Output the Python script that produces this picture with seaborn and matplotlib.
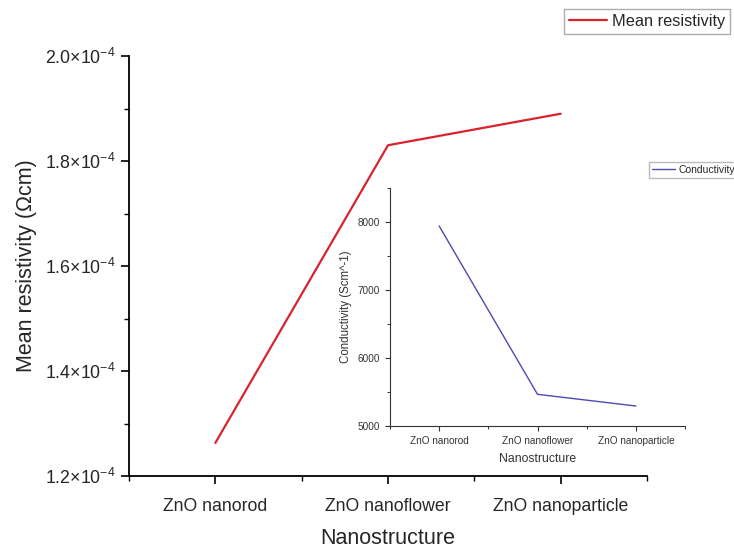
import matplotlib
matplotlib.use("Agg")
import matplotlib.pyplot as plt
import seaborn as sns
import pandas as pd
from matplotlib.ticker import FixedLocator, FuncFormatter

categories = ["ZnO nanorod", "ZnO nanoflower", "ZnO nanoparticle"]
resistivity = [1.263e-4, 1.830e-4, 1.890e-4]
conductivity = [7941, 5466, 5294]
res_ticks = [1.2e-4, 1.4e-4, 1.6e-4, 1.8e-4, 2.0e-4]

sns.set_theme(style="ticks")
plt.rcParams["font.family"] = ["Liberation Sans", "DejaVu Sans"]
plt.rcParams["mathtext.fontset"] = "custom"
plt.rcParams["mathtext.rm"] = "Liberation Sans"
plt.rcParams["mathtext.it"] = "Liberation Sans:italic"
plt.rcParams["mathtext.bf"] = "Liberation Sans:bold"
plt.rcParams["mathtext.sf"] = "Liberation Sans"

df_main = pd.DataFrame({"Nanostructure": categories, "Mean resistivity": resistivity})
df_in = pd.DataFrame({"Nanostructure": categories, "Conductivity": conductivity})

fig = plt.figure(figsize=(7.34, 5.49), dpi=100)
ax = fig.add_axes([129/734, 1-476/549, (647-129)/734, (476-56)/549])

sns.lineplot(data=df_main, x="Nanostructure", y="Mean resistivity", ax=ax,
             color="#d9232e", linewidth=1.6, label="Mean resistivity", sort=False)
ax.set_xlim(-0.5, 2.5)
ax.set_ylim(1.2e-4, 2.0e-4)
ax.set_xticks(range(len(categories)))
ax.set_xticklabels(categories, fontsize=12.7)
ax.xaxis.set_minor_locator(FixedLocator([-0.5, 0.5, 1.5, 2.5]))
ax.yaxis.set_major_locator(FixedLocator(res_ticks))
ax.yaxis.set_minor_locator(FixedLocator([1.3e-4, 1.5e-4, 1.7e-4, 1.9e-4]))

def fmt(v, pos):
    m = v / 1e-4
    return r"$%.1f{\times}10^{-4}$" % m
ax.yaxis.set_major_formatter(FuncFormatter(fmt))
ax.tick_params(axis="y", labelsize=12.8)
ax.tick_params(which="major", direction="out", length=6, width=1.2, color="black")
ax.tick_params(which="minor", direction="out", length=3.5, width=1.0, color="black")
ax.tick_params(axis="x", which="major", pad=9.5)
ax.set_xlabel("Nanostructure", fontsize=15.5, labelpad=10)
ax.set_ylabel("Mean resistivity (\u03a9cm)", fontsize=15.5, labelpad=6)
for s in ["top", "right"]:
    ax.spines[s].set_visible(False)
for s in ["left", "bottom"]:
    ax.spines[s].set_linewidth(1.3)
    ax.spines[s].set_color("black")
ax.legend(loc="upper right", bbox_to_anchor=(730/734, 1-9/549), bbox_transform=fig.transFigure,
          borderaxespad=0, fontsize=11.8, frameon=True, fancybox=False, edgecolor="#999999",
          handlelength=2.3, borderpad=0.3, handletextpad=0.3)

ins = fig.add_axes([390/734, 1-426/549, 295/734, (426-188)/549])
ins.patch.set_alpha(0)
sns.lineplot(data=df_in, x="Nanostructure", y="Conductivity", ax=ins,
             color="#4b4bb0", linewidth=1.0, label="Conductivity", sort=False)
ins.set_xlim(-0.5, 2.5)
ins.set_ylim(5000, 8500)
ins.set_xticks(range(len(categories)))
ins.set_xticklabels(categories, fontsize=7.2, color="#333333")
ins.xaxis.set_minor_locator(FixedLocator([-0.5, 0.5, 1.5, 2.5]))
ins.set_yticks([5000, 6000, 7000, 8000])
ins.yaxis.set_minor_locator(FixedLocator([5500, 6500, 7500, 8500]))
ins.tick_params(axis="y", labelsize=7.2, labelcolor="#333333")
ins.tick_params(which="major", direction="out", length=3.5, width=0.8, color="#333333")
ins.tick_params(which="minor", direction="out", length=2, width=0.7, color="#333333")
ins.set_xlabel("Nanostructure", fontsize=8.8, color="#333333", labelpad=5)
ins.set_ylabel("Conductivity (Scm^-1)", fontsize=8.3, color="#333333", labelpad=4)
for s in ["top", "right"]:
    ins.spines[s].set_visible(False)
for s in ["left", "bottom"]:
    ins.spines[s].set_linewidth(0.8)
    ins.spines[s].set_color("#333333")
ins.legend(loc="upper left", bbox_to_anchor=(649/734, 1-162/549), bbox_transform=fig.transFigure,
           borderaxespad=0, fontsize=7.5, frameon=True, fancybox=False, edgecolor="#aaaaaa",
           handlelength=2.2, borderpad=0.3, handletextpad=0.3)

fig.savefig("out.png", dpi=100)
